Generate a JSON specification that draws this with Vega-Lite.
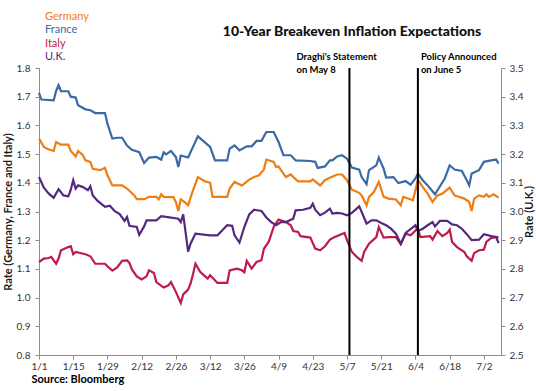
{
"$schema": "https://vega.github.io/schema/vega-lite/v6.json",
"width": 462, "height": 287, "autosize": "none",
"padding": {"left": 39, "top": 68, "right": 35, "bottom": 36},
"background": "white",
"config": {"font": "Lato", "view": {"stroke": null},
  "axis": {"grid": false, "domainColor": "#8c8c8c", "tickColor": "#8c8c8c", "tickSize": 4, "labelFontSize": 10, "labelColor": "#333333", "titleFontSize": 11, "titleFontWeight": "bold", "titleColor": "#1a1a1a"}},
"title": {"text": "10-Year Breakeven Inflation Expectations", "fontSize": 14, "fontWeight": 900, "color": "#111111", "anchor": "middle", "frame": "group", "dx": 82, "offset": 8, "dy": 36},
"datasets": {
"events": [{"d": "2014/05/08", "k": "draghi", "t": "Draghi's Statement\non May 8", "v": 1.84}, {"d": "2014/06/05", "k": "policy", "t": "Policy Announced\non June 5", "v": 1.84}],
"rates": [
{"c":"Germany","d":"2014/01/01","v":1.554},{"c":"Germany","d":"2014/01/03","v":1.525},{"c":"Germany","d":"2014/01/05","v":1.516},{"c":"Germany","d":"2014/01/07","v":1.511},{"c":"Germany","d":"2014/01/08","v":1.542},{"c":"Germany","d":"2014/01/10","v":1.533},{"c":"Germany","d":"2014/01/13","v":1.533},{"c":"Germany","d":"2014/01/14","v":1.511},{"c":"Germany","d":"2014/01/16","v":1.492},{"c":"Germany","d":"2014/01/17","v":1.511},{"c":"Germany","d":"2014/01/19","v":1.496},{"c":"Germany","d":"2014/01/20","v":1.478},{"c":"Germany","d":"2014/01/22","v":1.473},{"c":"Germany","d":"2014/01/23","v":1.449},{"c":"Germany","d":"2014/01/26","v":1.444},{"c":"Germany","d":"2014/01/28","v":1.452},{"c":"Germany","d":"2014/01/29","v":1.426},{"c":"Germany","d":"2014/01/31","v":1.391},{"c":"Germany","d":"2014/02/04","v":1.391},{"c":"Germany","d":"2014/02/06","v":1.38},{"c":"Germany","d":"2014/02/09","v":1.356},{"c":"Germany","d":"2014/02/10","v":1.343},{"c":"Germany","d":"2014/02/13","v":1.343},{"c":"Germany","d":"2014/02/15","v":1.351},{"c":"Germany","d":"2014/02/18","v":1.351},{"c":"Germany","d":"2014/02/19","v":1.342},{"c":"Germany","d":"2014/02/20","v":1.36},{"c":"Germany","d":"2014/02/21","v":1.351},{"c":"Germany","d":"2014/02/25","v":1.35},{"c":"Germany","d":"2014/02/26","v":1.333},{"c":"Germany","d":"2014/02/27","v":1.302},{"c":"Germany","d":"2014/02/28","v":1.342},{"c":"Germany","d":"2014/03/02","v":1.33},{"c":"Germany","d":"2014/03/03","v":1.322},{"c":"Germany","d":"2014/03/05","v":1.374},{"c":"Germany","d":"2014/03/07","v":1.42},{"c":"Germany","d":"2014/03/10","v":1.405},{"c":"Germany","d":"2014/03/12","v":1.4},{"c":"Germany","d":"2014/03/13","v":1.351},{"c":"Germany","d":"2014/03/19","v":1.351},{"c":"Germany","d":"2014/03/20","v":1.38},{"c":"Germany","d":"2014/03/22","v":1.403},{"c":"Germany","d":"2014/03/25","v":1.391},{"c":"Germany","d":"2014/03/26","v":1.397},{"c":"Germany","d":"2014/03/28","v":1.411},{"c":"Germany","d":"2014/03/30","v":1.42},{"c":"Germany","d":"2014/04/01","v":1.426},{"c":"Germany","d":"2014/04/03","v":1.446},{"c":"Germany","d":"2014/04/04","v":1.481},{"c":"Germany","d":"2014/04/07","v":1.473},{"c":"Germany","d":"2014/04/08","v":1.455},{"c":"Germany","d":"2014/04/09","v":1.457},{"c":"Germany","d":"2014/04/10","v":1.444},{"c":"Germany","d":"2014/04/12","v":1.42},{"c":"Germany","d":"2014/04/14","v":1.429},{"c":"Germany","d":"2014/04/15","v":1.42},{"c":"Germany","d":"2014/04/17","v":1.405},{"c":"Germany","d":"2014/04/22","v":1.405},{"c":"Germany","d":"2014/04/23","v":1.412},{"c":"Germany","d":"2014/04/24","v":1.405},{"c":"Germany","d":"2014/04/26","v":1.391},{"c":"Germany","d":"2014/04/28","v":1.409},{"c":"Germany","d":"2014/04/30","v":1.418},{"c":"Germany","d":"2014/05/03","v":1.429},{"c":"Germany","d":"2014/05/05","v":1.429},{"c":"Germany","d":"2014/05/07","v":1.409},{"c":"Germany","d":"2014/05/09","v":1.376},{"c":"Germany","d":"2014/05/12","v":1.365},{"c":"Germany","d":"2014/05/13","v":1.356},{"c":"Germany","d":"2014/05/15","v":1.322},{"c":"Germany","d":"2014/05/16","v":1.351},{"c":"Germany","d":"2014/05/18","v":1.368},{"c":"Germany","d":"2014/05/20","v":1.403},{"c":"Germany","d":"2014/05/22","v":1.351},{"c":"Germany","d":"2014/05/24","v":1.345},{"c":"Germany","d":"2014/05/27","v":1.342},{"c":"Germany","d":"2014/05/29","v":1.322},{"c":"Germany","d":"2014/05/30","v":1.351},{"c":"Germany","d":"2014/06/01","v":1.345},{"c":"Germany","d":"2014/06/03","v":1.339},{"c":"Germany","d":"2014/06/04","v":1.374},{"c":"Germany","d":"2014/06/05","v":1.411},{"c":"Germany","d":"2014/06/07","v":1.385},{"c":"Germany","d":"2014/06/09","v":1.362},{"c":"Germany","d":"2014/06/11","v":1.333},{"c":"Germany","d":"2014/06/13","v":1.356},{"c":"Germany","d":"2014/06/15","v":1.362},{"c":"Germany","d":"2014/06/18","v":1.383},{"c":"Germany","d":"2014/06/20","v":1.356},{"c":"Germany","d":"2014/06/24","v":1.345},{"c":"Germany","d":"2014/06/26","v":1.333},{"c":"Germany","d":"2014/06/27","v":1.302},{"c":"Germany","d":"2014/06/28","v":1.345},{"c":"Germany","d":"2014/06/30","v":1.356},{"c":"Germany","d":"2014/07/02","v":1.351},{"c":"Germany","d":"2014/07/03","v":1.36},{"c":"Germany","d":"2014/07/04","v":1.351},{"c":"Germany","d":"2014/07/06","v":1.36},{"c":"Germany","d":"2014/07/08","v":1.348},
{"c":"France","d":"2014/01/01","v":1.713},{"c":"France","d":"2014/01/02","v":1.69},{"c":"France","d":"2014/01/07","v":1.687},{"c":"France","d":"2014/01/08","v":1.72},{"c":"France","d":"2014/01/09","v":1.74},{"c":"France","d":"2014/01/10","v":1.719},{"c":"France","d":"2014/01/13","v":1.719},{"c":"France","d":"2014/01/14","v":1.7},{"c":"France","d":"2014/01/16","v":1.697},{"c":"France","d":"2014/01/17","v":1.67},{"c":"France","d":"2014/01/20","v":1.656},{"c":"France","d":"2014/01/22","v":1.653},{"c":"France","d":"2014/01/24","v":1.643},{"c":"France","d":"2014/01/28","v":1.643},{"c":"France","d":"2014/01/29","v":1.606},{"c":"France","d":"2014/01/31","v":1.554},{"c":"France","d":"2014/02/02","v":1.557},{"c":"France","d":"2014/02/04","v":1.557},{"c":"France","d":"2014/02/06","v":1.53},{"c":"France","d":"2014/02/08","v":1.515},{"c":"France","d":"2014/02/11","v":1.507},{"c":"France","d":"2014/02/13","v":1.469},{"c":"France","d":"2014/02/15","v":1.488},{"c":"France","d":"2014/02/18","v":1.49},{"c":"France","d":"2014/02/20","v":1.481},{"c":"France","d":"2014/02/21","v":1.506},{"c":"France","d":"2014/02/22","v":1.499},{"c":"France","d":"2014/02/24","v":1.511},{"c":"France","d":"2014/02/26","v":1.49},{"c":"France","d":"2014/02/27","v":1.455},{"c":"France","d":"2014/02/28","v":1.495},{"c":"France","d":"2014/03/03","v":1.488},{"c":"France","d":"2014/03/07","v":1.562},{"c":"France","d":"2014/03/12","v":1.525},{"c":"France","d":"2014/03/14","v":1.478},{"c":"France","d":"2014/03/19","v":1.478},{"c":"France","d":"2014/03/20","v":1.519},{"c":"France","d":"2014/03/22","v":1.53},{"c":"France","d":"2014/03/24","v":1.513},{"c":"France","d":"2014/03/27","v":1.527},{"c":"France","d":"2014/03/29","v":1.527},{"c":"France","d":"2014/03/31","v":1.546},{"c":"France","d":"2014/04/02","v":1.546},{"c":"France","d":"2014/04/04","v":1.577},{"c":"France","d":"2014/04/07","v":1.577},{"c":"France","d":"2014/04/09","v":1.542},{"c":"France","d":"2014/04/11","v":1.496},{"c":"France","d":"2014/04/14","v":1.496},{"c":"France","d":"2014/04/16","v":1.478},{"c":"France","d":"2014/04/22","v":1.476},{"c":"France","d":"2014/04/24","v":1.473},{"c":"France","d":"2014/04/25","v":1.452},{"c":"France","d":"2014/04/28","v":1.457},{"c":"France","d":"2014/04/30","v":1.478},{"c":"France","d":"2014/05/01","v":1.478},{"c":"France","d":"2014/05/03","v":1.492},{"c":"France","d":"2014/05/05","v":1.496},{"c":"France","d":"2014/05/07","v":1.484},{"c":"France","d":"2014/05/09","v":1.453},{"c":"France","d":"2014/05/12","v":1.446},{"c":"France","d":"2014/05/13","v":1.42},{"c":"France","d":"2014/05/15","v":1.395},{"c":"France","d":"2014/05/16","v":1.444},{"c":"France","d":"2014/05/19","v":1.461},{"c":"France","d":"2014/05/20","v":1.488},{"c":"France","d":"2014/05/22","v":1.449},{"c":"France","d":"2014/05/23","v":1.418},{"c":"France","d":"2014/05/26","v":1.42},{"c":"France","d":"2014/05/28","v":1.399},{"c":"France","d":"2014/05/31","v":1.406},{"c":"France","d":"2014/06/02","v":1.393},{"c":"France","d":"2014/06/04","v":1.415},{"c":"France","d":"2014/06/05","v":1.432},{"c":"France","d":"2014/06/07","v":1.409},{"c":"France","d":"2014/06/09","v":1.391},{"c":"France","d":"2014/06/12","v":1.36},{"c":"France","d":"2014/06/13","v":1.374},{"c":"France","d":"2014/06/16","v":1.415},{"c":"France","d":"2014/06/18","v":1.461},{"c":"France","d":"2014/06/20","v":1.446},{"c":"France","d":"2014/06/23","v":1.441},{"c":"France","d":"2014/06/25","v":1.409},{"c":"France","d":"2014/06/26","v":1.391},{"c":"France","d":"2014/06/27","v":1.432},{"c":"France","d":"2014/06/30","v":1.444},{"c":"France","d":"2014/07/02","v":1.473},{"c":"France","d":"2014/07/05","v":1.478},{"c":"France","d":"2014/07/07","v":1.481},{"c":"France","d":"2014/07/08","v":1.467},
{"c":"Italy","d":"2014/01/01","v":1.124},{"c":"Italy","d":"2014/01/03","v":1.136},{"c":"Italy","d":"2014/01/05","v":1.138},{"c":"Italy","d":"2014/01/06","v":1.142},{"c":"Italy","d":"2014/01/08","v":1.118},{"c":"Italy","d":"2014/01/09","v":1.136},{"c":"Italy","d":"2014/01/10","v":1.165},{"c":"Italy","d":"2014/01/13","v":1.176},{"c":"Italy","d":"2014/01/14","v":1.179},{"c":"Italy","d":"2014/01/15","v":1.151},{"c":"Italy","d":"2014/01/16","v":1.159},{"c":"Italy","d":"2014/01/20","v":1.151},{"c":"Italy","d":"2014/01/22","v":1.144},{"c":"Italy","d":"2014/01/24","v":1.118},{"c":"Italy","d":"2014/01/28","v":1.118},{"c":"Italy","d":"2014/01/29","v":1.109},{"c":"Italy","d":"2014/01/31","v":1.094},{"c":"Italy","d":"2014/02/02","v":1.105},{"c":"Italy","d":"2014/02/04","v":1.128},{"c":"Italy","d":"2014/02/06","v":1.13},{"c":"Italy","d":"2014/02/07","v":1.121},{"c":"Italy","d":"2014/02/08","v":1.098},{"c":"Italy","d":"2014/02/10","v":1.074},{"c":"Italy","d":"2014/02/12","v":1.063},{"c":"Italy","d":"2014/02/14","v":1.074},{"c":"Italy","d":"2014/02/15","v":1.095},{"c":"Italy","d":"2014/02/17","v":1.086},{"c":"Italy","d":"2014/02/18","v":1.054},{"c":"Italy","d":"2014/02/21","v":1.035},{"c":"Italy","d":"2014/02/23","v":1.043},{"c":"Italy","d":"2014/02/24","v":1.054},{"c":"Italy","d":"2014/02/26","v":1.02},{"c":"Italy","d":"2014/02/28","v":0.981},{"c":"Italy","d":"2014/03/01","v":1.011},{"c":"Italy","d":"2014/03/03","v":1.028},{"c":"Italy","d":"2014/03/04","v":1.049},{"c":"Italy","d":"2014/03/05","v":1.081},{"c":"Italy","d":"2014/03/06","v":1.118},{"c":"Italy","d":"2014/03/08","v":1.089},{"c":"Italy","d":"2014/03/11","v":1.066},{"c":"Italy","d":"2014/03/12","v":1.078},{"c":"Italy","d":"2014/03/15","v":1.051},{"c":"Italy","d":"2014/03/19","v":1.051},{"c":"Italy","d":"2014/03/20","v":1.095},{"c":"Italy","d":"2014/03/23","v":1.101},{"c":"Italy","d":"2014/03/25","v":1.095},{"c":"Italy","d":"2014/03/26","v":1.088},{"c":"Italy","d":"2014/03/27","v":1.128},{"c":"Italy","d":"2014/03/29","v":1.101},{"c":"Italy","d":"2014/03/31","v":1.124},{"c":"Italy","d":"2014/04/02","v":1.13},{"c":"Italy","d":"2014/04/03","v":1.17},{"c":"Italy","d":"2014/04/05","v":1.195},{"c":"Italy","d":"2014/04/07","v":1.246},{"c":"Italy","d":"2014/04/09","v":1.272},{"c":"Italy","d":"2014/04/12","v":1.263},{"c":"Italy","d":"2014/04/14","v":1.252},{"c":"Italy","d":"2014/04/15","v":1.232},{"c":"Italy","d":"2014/04/17","v":1.229},{"c":"Italy","d":"2014/04/18","v":1.214},{"c":"Italy","d":"2014/04/22","v":1.209},{"c":"Italy","d":"2014/04/24","v":1.171},{"c":"Italy","d":"2014/04/26","v":1.165},{"c":"Italy","d":"2014/04/28","v":1.179},{"c":"Italy","d":"2014/04/30","v":1.202},{"c":"Italy","d":"2014/05/02","v":1.211},{"c":"Italy","d":"2014/05/06","v":1.225},{"c":"Italy","d":"2014/05/07","v":1.2},{"c":"Italy","d":"2014/05/09","v":1.159},{"c":"Italy","d":"2014/05/11","v":1.142},{"c":"Italy","d":"2014/05/13","v":1.128},{"c":"Italy","d":"2014/05/14","v":1.159},{"c":"Italy","d":"2014/05/16","v":1.188},{"c":"Italy","d":"2014/05/19","v":1.211},{"c":"Italy","d":"2014/05/20","v":1.246},{"c":"Italy","d":"2014/05/22","v":1.209},{"c":"Italy","d":"2014/05/24","v":1.211},{"c":"Italy","d":"2014/05/27","v":1.211},{"c":"Italy","d":"2014/05/29","v":1.186},{"c":"Italy","d":"2014/05/31","v":1.223},{"c":"Italy","d":"2014/06/02","v":1.217},{"c":"Italy","d":"2014/06/03","v":1.225},{"c":"Italy","d":"2014/06/04","v":1.234},{"c":"Italy","d":"2014/06/05","v":1.242},{"c":"Italy","d":"2014/06/06","v":1.211},{"c":"Italy","d":"2014/06/10","v":1.214},{"c":"Italy","d":"2014/06/11","v":1.202},{"c":"Italy","d":"2014/06/13","v":1.232},{"c":"Italy","d":"2014/06/15","v":1.214},{"c":"Italy","d":"2014/06/17","v":1.225},{"c":"Italy","d":"2014/06/18","v":1.237},{"c":"Italy","d":"2014/06/19","v":1.194},{"c":"Italy","d":"2014/06/21","v":1.176},{"c":"Italy","d":"2014/06/24","v":1.159},{"c":"Italy","d":"2014/06/25","v":1.144},{"c":"Italy","d":"2014/06/27","v":1.128},{"c":"Italy","d":"2014/06/28","v":1.155},{"c":"Italy","d":"2014/06/30","v":1.165},{"c":"Italy","d":"2014/07/02","v":1.167},{"c":"Italy","d":"2014/07/03","v":1.194},{"c":"Italy","d":"2014/07/05","v":1.208},{"c":"Italy","d":"2014/07/07","v":1.211},{"c":"Italy","d":"2014/07/08","v":1.211},
{"c":"U.K.","d":"2014/01/01","v":3.12},{"c":"U.K.","d":"2014/01/03","v":3.083},{"c":"U.K.","d":"2014/01/05","v":3.062},{"c":"U.K.","d":"2014/01/07","v":3.048},{"c":"U.K.","d":"2014/01/09","v":3.078},{"c":"U.K.","d":"2014/01/11","v":3.056},{"c":"U.K.","d":"2014/01/13","v":3.053},{"c":"U.K.","d":"2014/01/14","v":3.076},{"c":"U.K.","d":"2014/01/15","v":3.109},{"c":"U.K.","d":"2014/01/16","v":3.08},{"c":"U.K.","d":"2014/01/17","v":3.091},{"c":"U.K.","d":"2014/01/19","v":3.085},{"c":"U.K.","d":"2014/01/21","v":3.074},{"c":"U.K.","d":"2014/01/22","v":3.088},{"c":"U.K.","d":"2014/01/23","v":3.056},{"c":"U.K.","d":"2014/01/25","v":3.037},{"c":"U.K.","d":"2014/01/28","v":3.016},{"c":"U.K.","d":"2014/01/30","v":3.02},{"c":"U.K.","d":"2014/02/01","v":3.001},{"c":"U.K.","d":"2014/02/03","v":2.991},{"c":"U.K.","d":"2014/02/05","v":2.967},{"c":"U.K.","d":"2014/02/06","v":2.981},{"c":"U.K.","d":"2014/02/07","v":2.95},{"c":"U.K.","d":"2014/02/10","v":2.946},{"c":"U.K.","d":"2014/02/11","v":2.919},{"c":"U.K.","d":"2014/02/13","v":2.948},{"c":"U.K.","d":"2014/02/14","v":2.969},{"c":"U.K.","d":"2014/02/18","v":2.969},{"c":"U.K.","d":"2014/02/20","v":2.984},{"c":"U.K.","d":"2014/02/22","v":2.981},{"c":"U.K.","d":"2014/02/27","v":2.975},{"c":"U.K.","d":"2014/02/28","v":2.963},{"c":"U.K.","d":"2014/03/01","v":2.99},{"c":"U.K.","d":"2014/03/03","v":2.86},{"c":"U.K.","d":"2014/03/04","v":2.888},{"c":"U.K.","d":"2014/03/06","v":2.923},{"c":"U.K.","d":"2014/03/12","v":2.917},{"c":"U.K.","d":"2014/03/15","v":2.917},{"c":"U.K.","d":"2014/03/17","v":2.935},{"c":"U.K.","d":"2014/03/19","v":2.952},{"c":"U.K.","d":"2014/03/21","v":2.95},{"c":"U.K.","d":"2014/03/22","v":2.917},{"c":"U.K.","d":"2014/03/24","v":2.892},{"c":"U.K.","d":"2014/03/26","v":2.946},{"c":"U.K.","d":"2014/03/28","v":2.99},{"c":"U.K.","d":"2014/03/30","v":3.006},{"c":"U.K.","d":"2014/04/02","v":3.002},{"c":"U.K.","d":"2014/04/04","v":2.979},{"c":"U.K.","d":"2014/04/06","v":2.963},{"c":"U.K.","d":"2014/04/08","v":2.952},{"c":"U.K.","d":"2014/04/10","v":2.963},{"c":"U.K.","d":"2014/04/12","v":2.963},{"c":"U.K.","d":"2014/04/15","v":2.975},{"c":"U.K.","d":"2014/04/16","v":3.004},{"c":"U.K.","d":"2014/04/19","v":3.006},{"c":"U.K.","d":"2014/04/22","v":3.013},{"c":"U.K.","d":"2014/04/23","v":3.027},{"c":"U.K.","d":"2014/04/24","v":3.006},{"c":"U.K.","d":"2014/04/26","v":2.987},{"c":"U.K.","d":"2014/04/28","v":2.996},{"c":"U.K.","d":"2014/04/30","v":3.01},{"c":"U.K.","d":"2014/05/01","v":2.993},{"c":"U.K.","d":"2014/05/03","v":2.995},{"c":"U.K.","d":"2014/05/05","v":2.993},{"c":"U.K.","d":"2014/05/07","v":2.987},{"c":"U.K.","d":"2014/05/09","v":2.995},{"c":"U.K.","d":"2014/05/12","v":3.018},{"c":"U.K.","d":"2014/05/15","v":2.958},{"c":"U.K.","d":"2014/05/17","v":2.969},{"c":"U.K.","d":"2014/05/19","v":2.969},{"c":"U.K.","d":"2014/05/21","v":2.96},{"c":"U.K.","d":"2014/05/23","v":2.952},{"c":"U.K.","d":"2014/05/25","v":2.94},{"c":"U.K.","d":"2014/05/27","v":2.923},{"c":"U.K.","d":"2014/05/29","v":2.888},{"c":"U.K.","d":"2014/05/31","v":2.925},{"c":"U.K.","d":"2014/06/02","v":2.939},{"c":"U.K.","d":"2014/06/04","v":2.952},{"c":"U.K.","d":"2014/06/05","v":2.932},{"c":"U.K.","d":"2014/06/07","v":2.94},{"c":"U.K.","d":"2014/06/09","v":2.952},{"c":"U.K.","d":"2014/06/11","v":2.963},{"c":"U.K.","d":"2014/06/12","v":2.948},{"c":"U.K.","d":"2014/06/14","v":2.967},{"c":"U.K.","d":"2014/06/17","v":2.967},{"c":"U.K.","d":"2014/06/19","v":2.955},{"c":"U.K.","d":"2014/06/21","v":2.952},{"c":"U.K.","d":"2014/06/23","v":2.94},{"c":"U.K.","d":"2014/06/25","v":2.921},{"c":"U.K.","d":"2014/06/27","v":2.9},{"c":"U.K.","d":"2014/06/30","v":2.902},{"c":"U.K.","d":"2014/07/02","v":2.921},{"c":"U.K.","d":"2014/07/05","v":2.914},{"c":"U.K.","d":"2014/07/07","v":2.911},{"c":"U.K.","d":"2014/07/08","v":2.89}
]},
"encoding": {
  "x": {"field": "d", "type": "temporal",
    "scale": {"domain": [{"year": 2014, "month": 1, "date": 1}, {"year": 2014, "month": 7, "date": 9}]},
    "axis": {"format": "%-m/%-d", "labelPadding": 2, "labelFlush": false,
      "values": [{"year":2014,"month":1,"date":1},{"year":2014,"month":1,"date":15},{"year":2014,"month":1,"date":29},{"year":2014,"month":2,"date":12},{"year":2014,"month":2,"date":26},{"year":2014,"month":3,"date":12},{"year":2014,"month":3,"date":26},{"year":2014,"month":4,"date":9},{"year":2014,"month":4,"date":23},{"year":2014,"month":5,"date":7},{"year":2014,"month":5,"date":21},{"year":2014,"month":6,"date":4},{"year":2014,"month":6,"date":18},{"year":2014,"month":7,"date":2}],
      "title": "Source: Bloomberg", "titleAnchor": "start", "titleAlign": "left", "titleBaseline": "top", "titleX": -8, "titleY": 18, "titleColor": "#000000"}}
},
"layer": [
  {"encoding": {
     "y": {"field": "v", "type": "quantitative", "scale": {"domain": [0.8, 1.8], "nice": false, "zero": false},
       "axis": {"values": [0.8,0.9,1.0,1.1,1.2,1.3,1.4,1.5,1.6,1.7,1.8], "format": ".1f", "labelPadding": 5, "labelOverlap": false, "title": "Rate (Germany, France and Italy)", "titlePadding": 3}}},
   "layer": [
    {"data": {"name": "rates"}, "transform": [{"filter": "datum.c !== 'U.K.'"}],
     "mark": {"type": "line", "strokeWidth": 2.2},
     "encoding": {
       "color": {"field": "c", "type": "nominal",
         "scale": {"domain": ["Germany", "France", "Italy", "U.K."], "range": ["#EE7D12", "#3A6AA6", "#BE1A4A", "#55287F"]},
         "legend": {"title": null, "orient": "none", "legendX": -5, "legendY": -57, "padding": 0, "symbolOpacity": 0, "symbolSize": 0, "symbolStrokeWidth": 0, "labelOffset": 0, "labelFontSize": 11, "rowPadding": 1.6,
           "encode": {"labels": {"update": {"fill": {"scale": "color", "field": "value"}}}}}}}},
    {"data": {"name": "events"}, "transform": [{"filter": "datum.k === 'draghi'"}],
     "mark": {"type": "text", "align": "left", "baseline": "middle", "dx": -53, "fontSize": 9.5, "fontWeight": "bold", "lineBreak": "\n", "lineHeight": 13, "color": "#000000"},
     "encoding": {"text": {"field": "t"}}},
    {"data": {"name": "events"}, "transform": [{"filter": "datum.k === 'policy'"}],
     "mark": {"type": "text", "align": "left", "baseline": "middle", "dx": 3, "fontSize": 9.5, "fontWeight": "bold", "lineBreak": "\n", "lineHeight": 13, "color": "#000000"},
     "encoding": {"text": {"field": "t"}}}
  ]},
  {"data": {"name": "rates"}, "transform": [{"filter": "datum.c === 'U.K.'"}],
   "mark": {"type": "line", "strokeWidth": 2.2},
   "encoding": {
     "y": {"field": "v", "type": "quantitative", "scale": {"domain": [2.5, 3.5], "nice": false, "zero": false},
       "axis": {"orient": "right", "values": [2.5,2.6,2.7,2.8,2.9,3.0,3.1,3.2,3.3,3.4,3.5], "format": ".1f", "labelPadding": 4, "labelOverlap": false, "title": "Rate (U.K.)", "titleAngle": 270, "titleBaseline": "top", "titlePadding": 1}},
     "color": {"field": "c", "type": "nominal"}}},
  {"data": {"name": "events"}, "mark": {"type": "rule", "color": "#000000", "strokeWidth": 2}, "encoding": {}}
],
"resolve": {"scale": {"y": "independent"}, "axis": {"y": "independent"}}
}
